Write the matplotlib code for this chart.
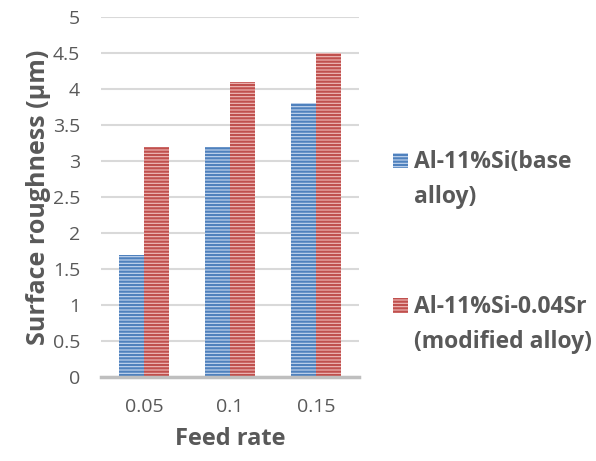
import numpy as np
import matplotlib
matplotlib.use("Agg")
import matplotlib.pyplot as plt
from matplotlib.patches import Rectangle

plt.rcParams['font.family'] = ['Open Sans', 'DejaVu Sans']
plt.rcParams['hatch.linewidth'] = 1.6

feed = ['0.05', '0.1', '0.15']
base = [1.7, 3.2, 3.8]
modified = [3.2, 4.1, 4.5]
series = [('Al-11%Si(base', 'alloy)'), ('Al-11%Si-0.04Sr', '(modified alloy)')]

grey = '#595959'
light = ['#c6d7ef', '#f0bcba']
dark = ['#4f81bd', '#c0504d']

W, H = 596, 461
fig = plt.figure(figsize=(W/100, H/100), dpi=100)
ax = fig.add_axes([101/W, 1-377/H, 258/W, 360/H])

x = np.arange(len(feed))
w = 0.285
ax.bar(x - w/2, base, w, color=light[0], edgecolor=dark[0], hatch='-----', linewidth=0, zorder=3)
ax.bar(x + w/2, modified, w, color=light[1], edgecolor=dark[1], hatch='-----', linewidth=0, zorder=3)

ax.set_xlim(-0.5, 2.5)
ax.set_ylim(0, 5)
ax.set_yticks(np.arange(0, 5.01, 0.5))
ax.set_yticklabels(['0', '0.5', '1', '1.5', '2', '2.5', '3', '3.5', '4', '4.5', '5'])
ax.set_xticks(x)
ax.set_xticklabels(feed)
ax.yaxis.grid(True, color='#d9d9d9', linewidth=1.5, zorder=0)
for s in ['top', 'right', 'left']:
    ax.spines[s].set_visible(False)
ax.spines['bottom'].set_color('#bfbfbf')
ax.spines['bottom'].set_linewidth(2.5)
ax.spines['bottom'].set_zorder(4)
ax.tick_params(axis='y', length=0, pad=15, labelsize=14, labelcolor=grey)
ax.tick_params(axis='x', length=0, pad=15, labelsize=14, labelcolor=grey)

ax.set_xlabel('Feed rate', fontsize=17, fontweight='bold', color=grey, labelpad=8)
ax.set_ylabel('Surface roughness (μm)', fontsize=18, fontweight='bold', color=grey, labelpad=1)

# legend drawn by hand (entries sit far apart and run off the right edge)
tops = [153, 298]
for i, (l1, l2) in enumerate(series):
    y0 = tops[i]
    fig.add_artist(Rectangle((393/W, 1-(y0+15)/H), 15/W, 15/H, transform=fig.transFigure,
                             facecolor=light[i], edgecolor=dark[i], hatch='-----', linewidth=0))
    fig.text(414/W, 1-(y0+15)/H, l1, fontsize=16.5, fontweight='bold', color=grey, va='baseline')
    fig.text(414/W, 1-(y0+50)/H, l2, fontsize=16.5, fontweight='bold', color=grey, va='baseline')

fig.savefig('out.png', dpi=100)
